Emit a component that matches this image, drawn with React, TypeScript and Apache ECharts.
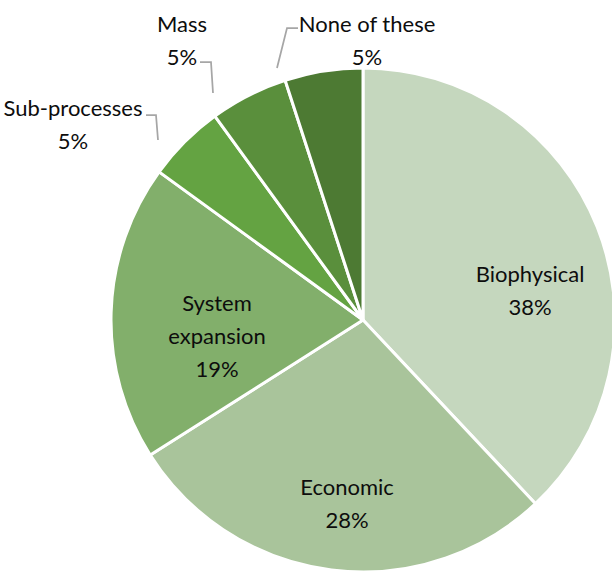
import React, { useEffect, useRef } from 'react';
import * as echarts from 'echarts';

const categories = ['Biophysical', 'Economic', 'System expansion', 'Sub-processes', 'Mass', 'None of these'];
const shares = [38, 28, 19, 5, 5, 5];
const percentLabels = ['38%', '28%', '19%', '5%', '5%', '5%'];
const labelNames = ['Biophysical', 'Economic', 'System\nexpansion', 'Sub-processes', 'Mass', 'None of these'];

const colors = ['#C5D7BE', '#A9C49B', '#82AF6B', '#64A342', '#5A8F3C', '#4D7A33'];
const labelCenters: number[][] = [[530, 290], [347, 503], [217, 335], [73, 124], [182, 40], [367, 40]];
const leaderLines: (number[][] | null)[] = [
  null, null, null,
  [[158, 140], [156, 115], [146, 115]],
  [[213, 93], [211, 62], [200, 62]],
  [[277, 68], [287, 28], [298, 28]],
];

export default function App() {
  const ref = useRef<HTMLDivElement>(null);
  useEffect(() => {
    if (!ref.current) return;
    const chart = echarts.init(ref.current, null, { renderer: 'svg' });
    const data = categories.map((name, i) => ({
      name,
      value: shares[i],
      itemStyle: { color: colors[i] },
      label: { position: leaderLines[i] ? 'outside' : 'inside' },
      labelLine: { show: !!leaderLines[i] },
    }));
    chart.setOption({
      animation: false,
      backgroundColor: '#ffffff',
      series: [
        {
          type: 'pie',
          center: [363, 320],
          radius: 252,
          startAngle: 90,
          clockwise: true,
          avoidLabelOverlap: false,
          itemStyle: { borderColor: '#ffffff', borderWidth: 3 },
          label: {
            show: true,
            color: '#0d0d0d',
            fontFamily: 'Lato',
            fontSize: 22,
            lineHeight: 33,
            align: 'center',
            formatter: (p: any) => labelNames[p.dataIndex] + '\n' + percentLabels[p.dataIndex],
          },
          labelLine: {
            lineStyle: { color: '#A6A6A6', width: 1.75 },
          },
          labelLayout: (p: any) => {
            const i = p.dataIndex;
            const out: any = {
              x: labelCenters[i][0],
              y: labelCenters[i][1],
              align: 'center',
              verticalAlign: 'middle',
            };
            if (leaderLines[i]) out.labelLinePoints = leaderLines[i];
            return out;
          },
          data,
        },
      ],
    });
    return () => chart.dispose();
  }, []);
  return (
    <div
      ref={ref}
      style={{ position: 'absolute', left: 0, top: 0, width: 612, height: 573, background: '#fff' }}
    />
  );
}
